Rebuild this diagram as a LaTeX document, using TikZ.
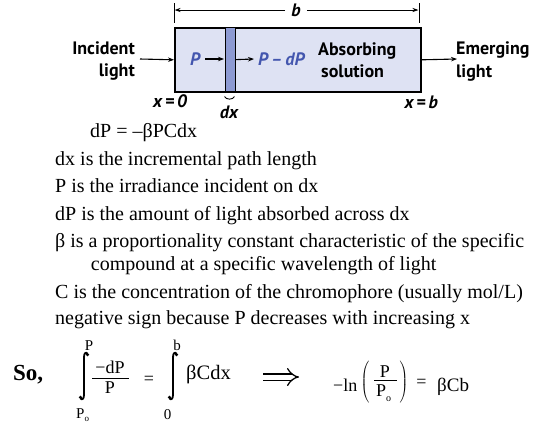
\documentclass[tikz,border=0pt]{standalone}
\usepackage{fontspec}
\usepackage{graphicx}
\setmainfont{Liberation Serif}
\newfontfamily\lblfont{PT Sans}
\usetikzlibrary{arrows.meta}
\definecolor{boxfill}{HTML}{DEE2F3}
\definecolor{stripfill}{HTML}{8D9AD2}
\definecolor{lblue}{HTML}{4356AE}
\tikzset{
  lbl/.style={font=\lblfont\fontsize{18}{18}\selectfont\bfseries, inner sep=0},
  lbli/.style={font=\lblfont\fontsize{18}{18}\selectfont\bfseries\itshape, inner sep=0},
  txt/.style={font=\fontsize{20}{20}\selectfont, inner sep=0, anchor=base west},
  eq/.style={font=\fontsize{18}{18}\selectfont, inner sep=0},
  lim/.style={font=\fontsize{15}{15}\selectfont, inner sep=0, anchor=base},
  paren/.style={font=\fontsize{18}{18}\selectfont, inner sep=0},
  arr/.style={-{Stealth[length=6pt,width=4.5pt]}, line width=1.1pt},
  dimarr/.style={-{Stealth[length=6pt,width=4pt]}, line width=1pt},
  implies/.style={double, double distance=5pt, line width=1.3pt, -{Implies[length=8pt]}},
  intsign/.style={line width=1.8pt},
  pics/integ/.style={code={
    \draw[intsign] (3.8,-22.3) .. controls (1.2,-24.8) and (0,-22) .. (0,-18.5) -- (0,18.5) .. controls (0,22) and (-1.2,24.8) .. (-3.8,22.3);
    \fill (3.5,-21.4) circle (1.8pt);
    \fill (-3.5,21.4) circle (1.8pt);
  }},
}
\newcommand\tallstrut{\vrule height 18pt depth 18pt width 0pt}
\begin{document}
\begin{tikzpicture}[x=1pt,y=-1pt]
\useasboundingbox (0,0) rectangle (541,424);
% dimension b
\draw[line width=1pt] (174,3) -- (174,23);
\draw[line width=1pt] (419,3) -- (419,23);
\node[lbli, inner xsep=6pt] (b) at (296,10) {b};
\coordinate (bl) at (174.5,10);
\coordinate (br) at (418.5,10);
\draw[dimarr] (b.west) -- (bl);
\draw[dimarr] (b.east) -- (br);
% cell
\node[draw, fill=boxfill, line width=1.6pt, minimum width=246pt, minimum height=64pt, anchor=north west, inner sep=0] (box) at (174,27) {};
\node[draw, fill=stripfill, line width=1.2pt, minimum width=10pt, minimum height=64pt, anchor=north west, inner sep=0] (strip) at (225,27) {};
% labels
\node[lbl, anchor=base east] (inc1) at (135,54) {Incident};
\node[lbl, anchor=base east] (inc2) at (135,76) {light};
\coordinate (incstart) at (140,59);
\draw[arr] (incstart) -- (box.west);
\node[lbli, text=lblue] (P) at (195,59) {P};
\coordinate (pend) at (224,59);
\draw[arr] ([xshift=5pt]P.east) -- (pend);
\node[lbli, text=lblue, anchor=west] (PdP) at (258,59) {P\,–\,dP};
\draw[arr] (strip.east) -- ([xshift=-4pt]PdP.west);
\node[lbl, anchor=base west] (abs1) at (318,55) {Absorbing};
\node[lbl, anchor=base west] (abs2) at (321,77) {solution};
\coordinate (emend) at (457,59);
\draw[arr] (box.east) -- (emend);
\node[lbl, anchor=base west] (em1) at (456,54) {Emerging};
\node[lbl, anchor=base west] (em2) at (456,77) {light};
\node[lbli, anchor=base west] (x0) at (153,107) {x\,=\,0};
\node[lbli, anchor=base east] (xb) at (438,108) {x\,=\,b};
\draw[line width=0.9pt] (224.5,96.5) .. controls (226,100) and (233,100) .. (234.5,96.5);
\node[lbli, anchor=base] (dx) at (229,118) {dx};
% text
\node[txt] (eq0) at (90,137) {dP = –βPCdx};
\node[txt] (l1) at (55,165) {dx is the incremental path length};
\node[txt] (l2) at (55,192.7) {P is the irradiance incident on dx};
\node[txt] (l3) at (55,220) {dP is the amount of light absorbed across dx};
\node[txt] (l4) at (55,247.7) {β is a proportionality constant characteristic of the specific};
\node[txt] (l5) at (90.7,270.7) {compound at a specific wavelength of light};
\node[txt] (l6) at (55,298.3) {C is the concentration of the chromophore (usually mol/L)};
\node[txt] (l7) at (55,324) {negative sign because P decreases with increasing x};
% equation
\node[font=\fontsize{23}{23}\selectfont\bfseries, inner sep=0, anchor=base west] (so) at (13,380) {So,};
\pic at (84,376) {integ};
\node[lim] (u1) at (89,350) {P};
\node[lim, anchor=base west] (d1) at (76,418) {P\raisebox{-3pt}{\fontsize{9}{9}\selectfont o}};
\node[eq, anchor=base] (n1) at (110,373) {−dP};
\draw[line width=0.8pt] (92,378) -- (129,378);
\node[eq, anchor=base] (den1) at (110,393) {P};
\node[eq] (e1) at (149,380) {=};
\pic at (173,376) {integ};
\node[lim] (u2) at (177,350) {b};
\node[lim] (d2) at (167.5,419) {0};
\node[font=\fontsize{20.5}{20.5}\selectfont, inner sep=0, anchor=base west] (bcdx) at (186,379) {βCdx};
\coordinate (impa) at (263,377);
\coordinate (impb) at (299,377);
\draw[implies] (impa) -- (impb);
\node[eq, anchor=base west] (ln) at (333,391) {−ln};
\node[paren] (lp) at (365,383) {\nulldelimiterspace=0pt$\left(\tallstrut\right.$};
\node[eq, anchor=base] (n2) at (385,377) {P};
\draw[line width=0.8pt] (374,380) -- (397,380);
\node[eq, anchor=base west] (den2) at (376,396) {P\raisebox{-5pt}{\fontsize{10}{10}\selectfont o}};
\node[paren] (rp) at (404,383) {\nulldelimiterspace=0pt$\left.\tallstrut\right)$};
\node[eq] (e2) at (421.5,383) {=};
\node[font=\fontsize{19}{19}\selectfont, inner sep=0, anchor=base west] (bcb) at (437,391) {βCb};
\end{tikzpicture}
\end{document}
